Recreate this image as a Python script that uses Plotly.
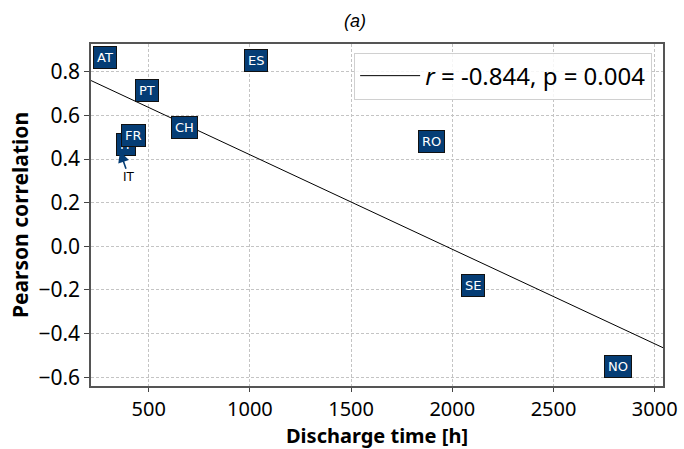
import numpy as np
import plotly.graph_objects as go

# Data
countries = ["AT", "ES", "PT", "CH", "IT", "FR", "RO", "SE", "NO"]
discharge_time = [256, 1001, 463, 645, 358, 394, 1870, 2074, 2789]
pearson_r = [0.832, 0.818, 0.681, 0.512, 0.436, 0.475, 0.448, -0.210, -0.584]
legend_label = "<i>r</i> = -0.844, p = 0.004"
x_ticks = [500, 1000, 1500, 2000, 2500, 3000]
y_ticks = [0.8, 0.6, 0.4, 0.2, 0.0, -0.2, -0.4, -0.6]
y_ticklabels = ["0.8", "0.6", "0.4", "0.2", "0.0", "\u22120.2", "\u22120.4", "\u22120.6"]

BOX = "#053D75"
FONT = "Noto Sans"

x = np.array(discharge_time, dtype=float)
y = np.array(pearson_r, dtype=float)
slope, intercept = np.polyfit(x, y, 1)
x_range = [215, 3041]
xl = np.array(x_range, dtype=float)

fig = go.Figure()
fig.add_trace(go.Scatter(x=xl, y=slope * xl + intercept, mode="lines",
                         line=dict(color="black", width=1),
                         name=legend_label, showlegend=True))

annotations = []
for c, xi, yi in zip(countries, discharge_time, pearson_r):
    annotations.append(dict(x=xi, y=yi, xref="x", yref="y", text=c,
                            showarrow=False, xshift=6, yshift=7,
                            font=dict(family="DejaVu Sans", size=13, color="white"),
                            bgcolor=BOX, bordercolor="#111111", borderwidth=1,
                            borderpad=3))
    if c == "IT":
        annotations.append(dict(x=xi, y=yi, xref="x", yref="y", text="IT",
                                showarrow=True, ax=9, ay=26, arrowhead=2,
                                arrowsize=1.4, arrowwidth=1.6, arrowcolor=BOX,
                                standoff=0,
                                font=dict(family="DejaVu Sans", size=12, color="black")))

fig.update_layout(
    width=684, height=449,
    margin=dict(l=91, r=21, t=44, b=63),
    paper_bgcolor="white", plot_bgcolor="white",
    font=dict(family=FONT, color="black"),
    title=dict(text="<i>(a)</i>", x=0.519, xanchor="center", y=0.955, yanchor="middle",
               font=dict(family="Liberation Sans", size=18, color="black")),
    annotations=annotations,
    legend=dict(x=0.981, y=0.975, xanchor="right", yanchor="top",
                bgcolor="rgba(255,255,255,0.85)", bordercolor="#d0d0d0", borderwidth=1,
                font=dict(family=FONT, size=24, color="black"), itemwidth=60),
    xaxis=dict(range=x_range, tickvals=x_ticks, ticks="outside", ticklen=4,
               tickcolor="#444", showline=True, linecolor="#555", linewidth=1.5,
               mirror=True, showgrid=True, gridcolor="#c4c4c4", griddash="3px,2px",
               gridwidth=0.8, zeroline=False, automargin=False,
               tickfont=dict(family=FONT, size=20),
               title=dict(text="<b>Discharge time [h]</b>", font=dict(family=FONT, size=20),
                          standoff=6)),
    yaxis=dict(range=[-0.64, 0.927], tickvals=y_ticks, ticktext=y_ticklabels,
               ticks="outside", ticklen=5, tickcolor="#444",
               showline=True, linecolor="#555", linewidth=1.5, mirror=True,
               showgrid=True, gridcolor="#c4c4c4", griddash="3px,2px", gridwidth=0.8,
               zeroline=False, automargin=False, tickfont=dict(family=FONT, size=21),
               title=dict(text="<b>Pearson correlation</b>", font=dict(family=FONT, size=21),
                          standoff=4)),
)

fig.write_html("out.html", config={"displayModeBar": False},
               post_script="document.body.style.margin='0';document.body.style.overflow='hidden';")
